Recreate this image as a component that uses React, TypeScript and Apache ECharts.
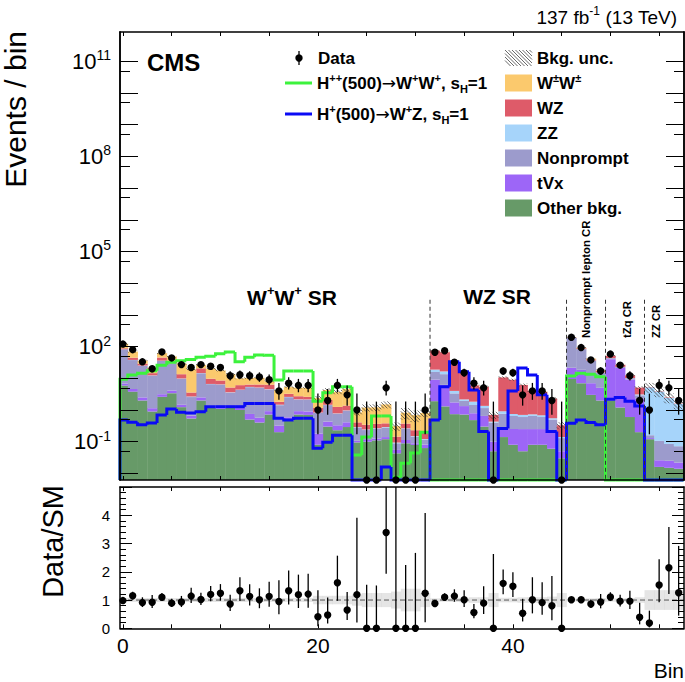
import React, { useEffect, useRef } from "react";
import * as echarts from "echarts";

const FONT = "'Liberation Sans', Arial, Helvetica, sans-serif";

// ---------- axis ranges ----------
const XMIN = -0.3;
const XMAX = 57.55;
const YMIN = 0.00619;
const YMAX = 8.4e11;
const RMIN = 0;
const RMAX = 5;

// ---------- tick / label values ----------
const xTickVals = [0, 5, 10, 15, 20, 25, 30, 35, 40, 45, 50, 55];
const xLabelVals = [0, 20, 40];
const yLabelVals = [0.1, 100, 1e5, 1e8, 1e11];
const yMajorTicks = [1e-2, 1e-1, 1, 10, 100, 1e3, 1e4, 1e5, 1e6, 1e7, 1e8, 1e9, 1e10, 1e11];
const yMinorTicks = [5e-2, 5e-1, 5, 50, 500, 5e3, 5e4, 5e5, 5e6, 5e7, 5e8, 5e9, 5e10];
const rLabelVals = [0, 1, 2, 3, 4];

// ---------- region separators ----------
const separatorPos = [31.5, 45.5, 49.5, 53.5];
const SEPARATOR_TOP = 3000;

// ---------- data ----------
const dataCounts = [
  120, 80, 33, 20, 68, 44, 27, 22, 27, 24,
  22, 12, 13, 12, 11, 9, 4, 7, 6, 6,
  1, 2, 6, 3, 1, 0, 0, 5, 0, 0,
  0, 1, 66, 74, 32, 15, 7, 5, 0, 17,
  15, 3, 4, 4, 2, 0, 196, 93, 38, 17,
  58, 26, 12, 2, 1, 6, 5, 2,
];

const ratioVals = [
  0.98, 1.15, 0.91, 0.92, 1.10, 0.89, 0.93, 1.14, 1.02, 1.20,
  1.24, 0.86, 1.33, 1.13, 1.01, 1.13, 0.95, 1.33, 1.19, 1.21,
  0.41, 0.47, 1.61, 0.65, 1.19, 0, 0, 3.39, 0, 0,
  0, 1.24, 0.88, 1.10, 1.14, 1.01, 0.56, 0.89, 0, 1.59,
  1.49, 0.53, 1.01, 0.91, 0.80, 0, 1.01, 1.01, 0.86, 0.93,
  1.11, 0.96, 0.96, 0.39, 0.19, 1.53, 2.14, 1.26,
];

// backgrounds (stack order bottom -> top)
const otherBkg = [
  5.9, 3.8, 2.0, 0.9, 2.6, 3.4, 1.23, 0.54, 2.0, 1.18,
  1.1, 1.2, 1.0, 0.5, 0.4, 0.72, 0.2, 0.47, 0.72, 0.7,
  0.08, 0.3, 0.23, 0.29, 0.095, 0.1, 0.11, 0.12, 0.043, 0.089,
  0.079, 0.063, 1.9, 1.3, 0.74, 0.72, 0.48, 0.3, 0.05, 0.14,
  0.08, 0.05, 0.08, 0.08, 0.06, 0.03, 9.5, 7, 3, 2,
  2.0, 1.2, 0.6, 0.2, 0.12, 0.016, 0.015, 0.014,
];
const tVx = [
  1.0, 0.8, 0.5, 0.24, 0.55, 0.7, 0.23, 0.12, 0.5, 0.16,
  0.23, 0.22, 0.18, 0.25, 0.17, 0.2, 0.12, 0.12, 0.2, 0.2,
  0.1, 0.13, 0.1, 0.12, 0.012, 0.013, 0.015, 0.02, 0.012, 0.024,
  0.01, 0.018, 7.2, 4.9, 1.0, 0.61, 0.31, 0.35, 0.05, 0.12,
  0.17, 0.2, 0.17, 0.17, 0.14, 0.02, 12, 11.5, 4, 3,
  38, 20, 8.5, 2.1, 0.01, 0.01, 0.01, 0.008,
];
const nonprompt = [
  75, 33, 22.5, 11.0, 32.6, 25.5, 8.2, 1.9, 11.9, 5.2,
  5.0, 2.1, 3.1, 4.5, 4.5, 3.5, 1.1, 1.95, 1.2, 1.2,
  0.63, 1.0, 0.43, 0.54, 0.17, 0.12, 0.13, 0.14, 0.034, 0.14,
  0.055, 0.035, 6.7, 7.3, 1.6, 0.6, 0.65, 0.5, 0.3, 0.5,
  0.4, 0.35, 0.4, 0.35, 0.3, 0.08, 165, 64.5, 29, 10,
  3, 1.5, 1, 0.6, 0.03, 0.08, 0.06, 0.05,
];
const zzBkg = [
  0.5, 0.4, 0.3, 0.2, 0.3, 0.3, 0.2, 0.1, 0.2, 0.1,
  0.1, 0.1, 0.1, 0.1, 0.1, 0.1, 0.05, 0.05, 0.05, 0.05,
  0.02, 0.03, 0.02, 0.02, 0.01, 0.01, 0.01, 0.01, 0.005, 0.01,
  0.006, 0.005, 3.0, 3.0, 0.66, 0.23, 0.39, 0.2, 0.03, 0.15,
  0.1, 0.1, 0.08, 0.08, 0.05, 0.01, 0.5, 0.5, 0.4, 0.3,
  0.3, 0.2, 0.1, 0.2, 5.04, 3.7, 2.33, 1.49,
];
const wzBkg = [
  5.6, 6.6, 3.4, 2.2, 9.1, 6.6, 3.6, 0.9, 6.0, 3.1,
  2.1, 1.5, 1.7, 1.0, 1.2, 1.8, 0.35, 0.65, 0.55, 0.45,
  0.33, 0.6, 0.47, 0.41, 0.12, 0.1, 0.1, 0.09, 0.05, 0.11,
  0.08, 0.09, 56, 50, 23.8, 12.7, 4.2, 4.0, 0.27, 9.74,
  8.18, 5.46, 3.32, 3.09, 1.73, 0.19, 4, 5, 3, 1.7,
  8, 3.8, 2.2, 2.0, 0.1, 0.09, 0.08, 0.04,
];
const wpmwpm = [
  34, 25, 7.3, 7.1, 16.9, 12.5, 15.5, 15.7, 5.9, 10.3,
  9.2, 8.4, 3.9, 3.95, 4.0, 1.7, 2.4, 2.05, 2.3, 2.4,
  1.24, 2.2, 2.45, 3.22, 0.43, 0.85, 0.85, 1.12, 0.166, 0.45,
  0.46, 0.6, 0.2, 0.5, 0.2, 0.14, 0.07, 0.05, 0, 0.05,
  0.07, 0.04, 0.05, 0.03, 0.02, 0, 3, 4, 2.5, 1.0,
  0.7, 0.3, 0.1, 0, 0, 0, 0, 0,
];
const bkgUncRel = [
  0.07, 0.07, 0.07, 0.07, 0.07, 0.07, 0.07, 0.07, 0.07, 0.07,
  0.07, 0.07, 0.07, 0.07, 0.07, 0.07, 0.07, 0.07, 0.07, 0.07,
  0.15, 0.15, 0.15, 0.15, 0.2, 0.25, 0.25, 0.25, 0.3, 0.4,
  0.4, 0.25, 0.06, 0.06, 0.07, 0.08, 0.1, 0.1, 0.25, 0.08,
  0.08, 0.1, 0.1, 0.1, 0.12, 0.25, 0.05, 0.05, 0.06, 0.07,
  0.06, 0.06, 0.07, 0.1, 0.35, 0.35, 0.35, 0.35,
];

// signals
const sigHpp = [
  9.3, 12.6, 14.4, 17.4, 26, 32, 35.5, 39.5, 46, 50,
  59, 68, 33, 46, 54, 53, 8.9, 17, 17, 17,
  1.9, 3.5, 5.4, 5.4, 0.038, 0.14, 0.65, 0.65, 0.0076, 0.021,
  0.044, 0.2, 0, 0, 0, 0, 0, 0, 0, 0,
  0, 0, 0, 0, 0, 0, 11.8, 14.4, 13.4, 11.2,
  0, 0, 0, 0, 0, 0, 0, 0,
];
const sigHp = [
  0.48, 0.41, 0.34, 0.39, 0.7, 1.07, 0.85, 0.8, 0.88, 1.27,
  1.27, 1.27, 1.27, 1.6, 1.6, 1.6, 0.55, 0.48, 0.55, 0.55,
  0.062, 0.096, 0.16, 0.16, 0, 0, 0, 0.016, 0, 0,
  0, 0, 0.48, 5.4, 33, 16, 4.3, 0.21, 0, 0.26,
  4.0, 21, 12.6, 3.0, 0.21, 0, 0.38, 0.48, 0.40, 0.34,
  2.2, 2.5, 1.9, 1.34, 0, 0, 0, 0,
];

// ---------- colours ----------
const C_WW = "#fbc96d";
const C_WZ = "#de5b69";
const C_ZZ = "#a6d4fa";
const C_NP = "#9c9bcc";
const C_TVX = "#9d66f7";
const C_OTHER = "#679a68";
const C_HPP = "#3cf23c";
const C_HP = "#0a0af5";

const components = [
  { values: otherBkg, color: C_OTHER },
  { values: tVx, color: C_TVX },
  { values: nonprompt, color: C_NP },
  { values: zzBkg, color: C_ZZ },
  { values: wzBkg, color: C_WZ },
  { values: wpmwpm, color: C_WW },
];

function garwood(n: number): [number, number] {
  if (n === 0) return [0, 1.841];
  const lo = n * Math.pow(1 - 1 / (9 * n) - 1 / (3 * Math.sqrt(n)), 3);
  const m = n + 1;
  const hi = m * Math.pow(1 - 1 / (9 * m) + 1 / (3 * Math.sqrt(m)), 3);
  return [lo, hi];
}

const clampY = (v: number) => Math.max(v, YMIN);
const clampR = (v: number) => Math.min(Math.max(v, RMIN), RMAX);

function buildOption() {
  const series: any[] = [];
  let cum = dataCounts.map(() => 0);
  components.forEach((comp) => {
    const data = comp.values.map((v, i) => [i, clampY(cum[i] + v), clampY(cum[i])]);
    cum = cum.map((c, i) => c + comp.values[i]);
    const color = comp.color;
    series.push({
      type: "custom",
      xAxisIndex: 0,
      yAxisIndex: 0,
      z: 2,
      data,
      renderItem: (params: any, api: any) => {
        const i = api.value(0);
        const top = api.value(1);
        const bot = api.value(2);
        const p0 = api.coord([Math.max(i - 0.5, XMIN), top]);
        const p1 = api.coord([Math.min(i + 0.5, XMAX), bot]);
        return {
          type: "rect",
          shape: { x: p0[0], y: p0[1], width: p1[0] - p0[0] + 0.4, height: Math.max(p1[1] - p0[1], 0) },
          style: { fill: color },
        };
      },
    });
  });
  const totals = cum;

  // background uncertainty hatch
  series.push({
    type: "custom",
    xAxisIndex: 0,
    yAxisIndex: 0,
    z: 3,
    data: totals.map((t, i) => [i, clampY(t * (1 + bkgUncRel[i])), clampY(t * (1 - bkgUncRel[i]))]),
    renderItem: (params: any, api: any) => {
      const i = api.value(0);
      const hi = api.value(1);
      const lo = api.value(2);
      const a = api.coord([Math.max(i - 0.5, XMIN), hi]);
      const b = api.coord([Math.min(i + 0.5, XMAX), lo]);
      const xa = a[0], ya = a[1], xb = b[0], yb = b[1];
      const sp = 3.5;
      const children: any[] = [];
      const cMin = ya - xb;
      const cMax = yb - xa;
      for (let c = Math.ceil(cMin / sp) * sp; c <= cMax; c += sp) {
        const x1 = Math.max(xa, ya - c);
        const x2 = Math.min(xb, yb - c);
        if (x2 > x1) {
          children.push({
            type: "line",
            shape: { x1, y1: x1 + c, x2, y2: x2 + c },
            style: { stroke: "#3a3a3a", lineWidth: 0.7 },
          });
        }
      }
      return { type: "group", children };
    },
  });

  // signal histograms
  const sigs = [
    { values: sigHpp, color: C_HPP },
    { values: sigHp, color: C_HP },
  ];
  sigs.forEach((s, k) => {
    const vals = s.values;
    series.push({
      type: "custom",
      xAxisIndex: 0,
      yAxisIndex: 0,
      z: 4 + k,
      data: vals.map((v, i) => [i, clampY(v), i === 0 ? YMIN : clampY(vals[i - 1])]),
      renderItem: (params: any, api: any) => {
        const i = api.value(0);
        const cur = api.value(1);
        const prev = api.value(2);
        const xl = Math.max(i - 0.5, XMIN);
        const xr = Math.min(i + 0.5, XMAX);
        const p1 = api.coord([xl, prev]);
        const p2 = api.coord([xl, cur]);
        const p3 = api.coord([xr, cur]);
        return {
          type: "polyline",
          shape: { points: [p1, p2, p3] },
          style: { stroke: s.color, lineWidth: 3, fill: null, lineJoin: "miter" },
        };
      },
    });
  });

  // region separators
  series.push({
    type: "custom",
    xAxisIndex: 0,
    yAxisIndex: 0,
    z: 7,
    data: separatorPos.map((x) => [x, SEPARATOR_TOP, YMIN]),
    renderItem: (params: any, api: any) => {
      const a = api.coord([api.value(0), api.value(1)]);
      const b = api.coord([api.value(0), api.value(2)]);
      return {
        type: "line",
        shape: { x1: a[0], y1: a[1], x2: b[0], y2: b[1] },
        style: { stroke: "#333", lineWidth: 1, lineDash: [4, 3] },
      };
    },
  });

  // data points
  series.push({
    type: "custom",
    xAxisIndex: 0,
    yAxisIndex: 0,
    z: 8,
    data: dataCounts.map((n, i) => {
      const g = garwood(n);
      return [i, clampY(n), clampY(g[0]), clampY(g[1])];
    }),
    renderItem: (params: any, api: any) => {
      const i = api.value(0);
      const c = api.coord([i, api.value(1)]);
      const lo = api.coord([i, api.value(2)]);
      const hi = api.coord([i, api.value(3)]);
      return {
        type: "group",
        children: [
          { type: "line", shape: { x1: c[0], y1: lo[1], x2: c[0], y2: hi[1] }, style: { stroke: "#000", lineWidth: 1.3 } },
          { type: "circle", shape: { cx: c[0], cy: c[1], r: 3.7 }, style: { fill: "#000" } },
        ],
      };
    },
  });

  // ratio band
  series.push({
    type: "custom",
    xAxisIndex: 2,
    yAxisIndex: 4,
    z: 2,
    data: bkgUncRel.map((u, i) => [i, clampR(1 + u), clampR(1 - u)]),
    renderItem: (params: any, api: any) => {
      const i = api.value(0);
      const a = api.coord([Math.max(i - 0.5, XMIN), api.value(1)]);
      const b = api.coord([Math.min(i + 0.5, XMAX), api.value(2)]);
      return {
        type: "rect",
        shape: { x: a[0], y: a[1], width: b[0] - a[0] + 0.3, height: b[1] - a[1] },
        style: { fill: "rgba(170,170,170,0.3)" },
      };
    },
  });
  series.push({
    type: "line",
    xAxisIndex: 2,
    yAxisIndex: 4,
    z: 3,
    data: [[XMIN, 1], [XMAX, 1]],
    showSymbol: false,
    silent: true,
    lineStyle: { color: "#555", width: 1, type: [5, 3] },
  });

  // ratio points
  series.push({
    type: "custom",
    xAxisIndex: 2,
    yAxisIndex: 4,
    z: 8,
    data: dataCounts.map((n, i) => {
      const g = garwood(n);
      if (n === 0) return [i, 0, 0, clampR(g[1] / totals[i])];
      const r = ratioVals[i];
      return [i, clampR(r), clampR((r * g[0]) / n), clampR((r * g[1]) / n)];
    }),
    renderItem: (params: any, api: any) => {
      const i = api.value(0);
      const c = api.coord([i, api.value(1)]);
      const lo = api.coord([i, api.value(2)]);
      const hi = api.coord([i, api.value(3)]);
      return {
        type: "group",
        children: [
          { type: "line", shape: { x1: c[0], y1: lo[1], x2: c[0], y2: hi[1] }, style: { stroke: "#000", lineWidth: 1.3 } },
          { type: "circle", shape: { cx: c[0], cy: c[1], r: 3.7 }, style: { fill: "#000" } },
        ],
      };
    },
  });

  const axisLineStyle = { show: true, lineStyle: { color: "#000", width: 1.5 } };

  const xAxisBase = (grid: number, pos: string, labels: boolean) => ({
    type: "value",
    gridIndex: grid,
    position: pos,
    min: XMIN,
    max: XMAX,
    z: 10,
    axisLine: { ...axisLineStyle, onZero: false },
    axisTick: { show: true, inside: true, length: 4, customValues: xTickVals, lineStyle: { color: "#000", width: 1 } },
    axisLabel: labels
      ? { show: true, customValues: xLabelVals, fontSize: 21, fontFamily: FONT, color: "#000", margin: 7 }
      : { show: false },
    splitLine: { show: false },
  });

  const logAxis = (pos: string, ticks: number[], len: number, labels: boolean) => ({
    type: "log",
    logBase: 10,
    gridIndex: 0,
    position: pos,
    min: YMIN,
    max: YMAX,
    z: 10,
    axisLine: { ...axisLineStyle, onZero: false },
    axisTick: { show: true, inside: true, length: len, customValues: ticks, lineStyle: { color: "#000", width: 1 } },
    minorTick: { show: false },
    axisLabel: labels
      ? {
          show: true,
          customValues: yLabelVals,
          margin: 9,
          formatter: (v: number) => `{b|10}{s|${Math.round(Math.log10(v))}}`,
          rich: {
            b: { fontSize: 22, fontFamily: FONT, color: "#000", lineHeight: 26 },
            s: { fontSize: 14, fontFamily: FONT, color: "#000", lineHeight: 14, verticalAlign: "top" },
          },
        }
      : { show: false },
    splitLine: { show: false },
  });

  const ratioAxis = (pos: string, labels: boolean) => ({
    type: "value",
    gridIndex: 1,
    position: pos,
    min: RMIN,
    max: RMAX,
    interval: 1,
    z: 10,
    axisLine: { ...axisLineStyle, onZero: false },
    axisTick: { show: true, inside: true, length: 12, lineStyle: { color: "#000", width: 1 } },
    minorTick: { show: true, splitNumber: 5, length: 6, lineStyle: { color: "#000", width: 1 } },
    axisLabel: labels
      ? { show: true, customValues: rLabelVals, fontSize: 15, fontFamily: FONT, color: "#000", margin: 10 }
      : { show: false },
    splitLine: { show: false },
    minorSplitLine: { show: false },
  });

  const richLegend = {
    n: { fontSize: 17, fontWeight: "bold", fontFamily: FONT, fill: "#000", lineHeight: 22 },
    a: { fontSize: 17, fontFamily: "'DejaVu Sans', sans-serif", fill: "#000", lineHeight: 22, verticalAlign: "middle" },
    s: { fontSize: 11, fontWeight: "bold", fontFamily: FONT, fill: "#000", lineHeight: 11, verticalAlign: "top" },
    u: { fontSize: 11, fontWeight: "bold", fontFamily: FONT, fill: "#000", lineHeight: 11, verticalAlign: "bottom" },
  };

  const txt = (x: number, y: number, text: string, opts: any = {}) => ({
    type: "text",
    x,
    y,
    rotation: opts.rotation || 0,
    z: 100,
    style: {
      text,
      fill: "#000",
      fontSize: opts.fontSize || 17,
      fontWeight: opts.fontWeight || "normal",
      fontFamily: FONT,
      align: opts.align || "left",
      textAlign: opts.align || "left",
      verticalAlign: "middle",
      textVerticalAlign: "middle",
      rich: opts.rich,
    },
  });

  const legendBoxes = [
    { y: 83, color: C_WW, label: "{n|W}{s|±}{n|W}{s|±}" },
    { y: 108, color: C_WZ, label: "{n|WZ}" },
    { y: 133, color: C_ZZ, label: "{n|ZZ}" },
    { y: 158, color: C_NP, label: "{n|Nonprompt}" },
    { y: 183, color: C_TVX, label: "{n|tVx}" },
    { y: 208, color: C_OTHER, label: "{n|Other bkg.}" },
  ];

  const hatchLines: any[] = [];
  for (let k = -3; k <= 7; k++) {
    const x0 = 505 + k * 3.5;
    const c = 50 - x0;
    const x1 = Math.max(505, 50 - c);
    const x2 = Math.min(532, 66 - c);
    if (x2 > x1) hatchLines.push({ type: "line", shape: { x1, y1: x1 + c, x2, y2: x2 + c }, style: { stroke: "#444", lineWidth: 0.8 } });
  }

  const graphic: any[] = [
    // titles
    txt(15, 31, "Events / bin", { fontSize: 30, align: "right", rotation: Math.PI / 2 }),
    txt(53, 485, "Data/SM", { fontSize: 29, align: "right", rotation: Math.PI / 2 }),
    txt(684, 670, "Bin", { fontSize: 21, align: "right" }),
    txt(147, 62, "CMS", { fontSize: 24, fontWeight: "bold" }),
    txt(677, 17, "{n|137 fb}{s|-1}{n| (13 TeV)}", {
      align: "right",
      rich: {
        n: { fontSize: 19, fontFamily: FONT, fill: "#000", lineHeight: 24 },
        s: { fontSize: 12, fontFamily: FONT, fill: "#000", lineHeight: 12, verticalAlign: "top" },
      },
    }),
    // region labels
    txt(292, 297, "{n|W}{s|+}{n|W}{s|+}{n| SR}", {
      align: "center",
      rich: {
        n: { fontSize: 21, fontWeight: "bold", fontFamily: FONT, fill: "#000", lineHeight: 26 },
        s: { fontSize: 13, fontWeight: "bold", fontFamily: FONT, fill: "#000", lineHeight: 13, verticalAlign: "top" },
      },
    }),
    txt(497, 296, "WZ SR", { fontSize: 21, fontWeight: "bold", align: "center" }),
    txt(586, 338, "Nonprompt lepton CR", { fontSize: 11.3, fontWeight: "bold", rotation: Math.PI / 2 }),
    txt(627, 338, "tZq CR", { fontSize: 11.3, fontWeight: "bold", rotation: Math.PI / 2 }),
    txt(656, 338, "ZZ CR", { fontSize: 11.3, fontWeight: "bold", rotation: Math.PI / 2 }),
    // legend: data
    { type: "line", z: 100, shape: { x1: 299, y1: 51, x2: 299, y2: 65 }, style: { stroke: "#000", lineWidth: 1.3 } },
    { type: "circle", z: 100, shape: { cx: 299, cy: 58, r: 3.7 }, style: { fill: "#000" } },
    txt(318, 58, "Data", { fontSize: 17, fontWeight: "bold" }),
    // legend: signals
    { type: "line", z: 100, shape: { x1: 285, y1: 83, x2: 312, y2: 83 }, style: { stroke: C_HPP, lineWidth: 3 } },
    txt(317, 83, "{n|H}{s|++}{n|(500)}{a|→}{n|W}{s|+}{n|W}{s|+}{n|, s}{u|H}{n|=1}", { rich: richLegend }),
    { type: "line", z: 100, shape: { x1: 285, y1: 114, x2: 312, y2: 114 }, style: { stroke: C_HP, lineWidth: 3 } },
    txt(317, 114, "{n|H}{s|+}{n|(500)}{a|→}{n|W}{s|+}{n|Z, s}{u|H}{n|=1}", { rich: richLegend }),
    // legend: bkg unc
    { type: "group", z: 100, children: hatchLines },
    txt(537, 58, "Bkg. unc.", { fontSize: 17, fontWeight: "bold" }),
  ];
  legendBoxes.forEach((b) => {
    graphic.push({ type: "rect", z: 100, shape: { x: 505, y: b.y - 8.5, width: 27, height: 17 }, style: { fill: b.color } });
    graphic.push(txt(537, b.y, b.label, { rich: richLegend }));
  });

  return {
    animation: false,
    backgroundColor: "#fff",
    grid: [
      { left: 120, top: 32, width: 564, height: 448, show: false },
      { left: 120, top: 487, width: 564, height: 141.3, show: false },
    ],
    xAxis: [
      xAxisBase(0, "bottom", false),
      xAxisBase(0, "top", false),
      xAxisBase(1, "bottom", true),
      xAxisBase(1, "top", false),
    ],
    yAxis: [
      logAxis("left", yMajorTicks, 18, true),
      logAxis("left", yMinorTicks, 10, false),
      logAxis("right", yMajorTicks, 18, false),
      logAxis("right", yMinorTicks, 10, false),
      ratioAxis("left", true),
      ratioAxis("right", false),
    ],
    series,
    graphic,
  };
}

export default function App() {
  const ref = useRef<HTMLDivElement>(null);
  useEffect(() => {
    if (!ref.current) return;
    const chart = echarts.init(ref.current, null, { renderer: "svg" });
    chart.setOption(buildOption() as any);
    return () => chart.dispose();
  }, []);
  return (
    <div
      ref={ref}
      style={{ position: "fixed", left: 0, top: 0, width: 685, height: 682, background: "#fff" }}
    />
  );
}
